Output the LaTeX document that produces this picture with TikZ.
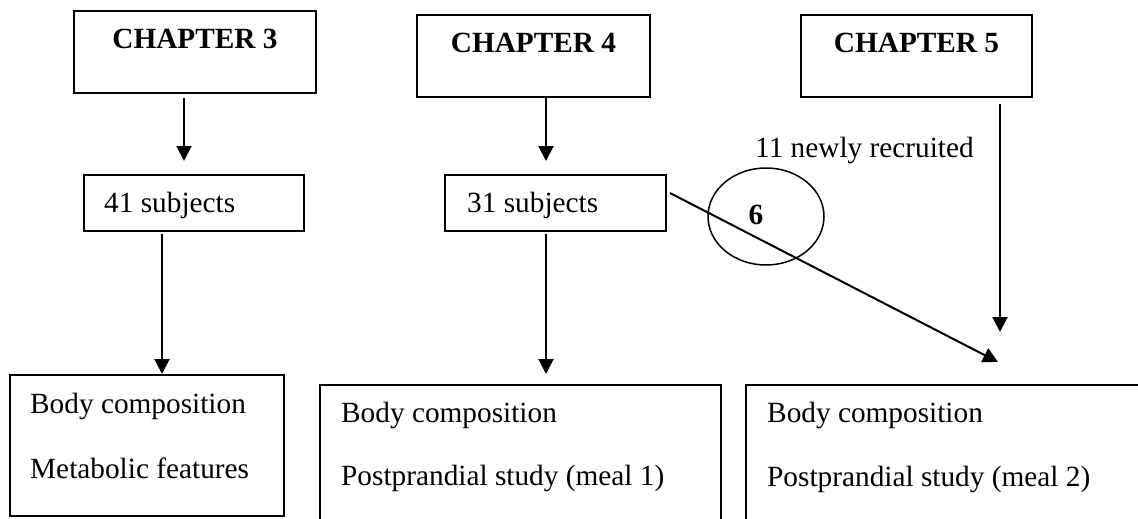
\documentclass[tikz,border=0pt]{standalone}
\usepackage{fontspec}
\setmainfont{Liberation Serif}
\usetikzlibrary{arrows.meta,shapes.geometric}
\begin{document}
\begin{tikzpicture}[x=1pt,y=-1pt,
  box/.style={draw,line width=2pt,inner sep=0pt,rectangle},
  txt/.style={inner sep=0pt,anchor=base west,font=\fontsize{29.3}{34}\selectfont},
  ttl/.style={inner sep=0pt,anchor=base,font=\fontsize{29.3}{34}\selectfont\bfseries},
  arr/.style={line width=2pt,-{Triangle[length=15pt,width=15pt]}}]
\useasboundingbox (0,0) rectangle (1138,519);
\clip (0,0) rectangle (1138,519);
% boxes
\node[box,minimum width=242pt,minimum height=82pt] (ch3) at (195,52) {};
\node[box,minimum width=233pt,minimum height=82pt] (ch4) at (533.5,56) {};
\node[box,minimum width=231pt,minimum height=82pt] (ch5) at (916.5,56) {};
\node[box,minimum width=220pt,minimum height=56pt] (s41) at (194,203) {};
\node[box,minimum width=221pt,minimum height=56pt] (s31) at (555.5,203) {};
\node[box,minimum width=274pt,minimum height=141pt] (r1) at (147,445.5) {};
\node[box,minimum width=401pt,minimum height=155pt] (r2) at (520.5,462.5) {};
\node[box,minimum width=414pt,minimum height=155pt] (r3) at (953,462.5) {};
\node[draw,ellipse,line width=1.5pt,minimum width=116pt,minimum height=97pt,inner sep=0pt] (e6) at (766,216.5) {};
% texts
\node[ttl] (t3) at (195,49) {CHAPTER 3};
\node[ttl] (t4) at (533.5,53) {CHAPTER 4};
\node[ttl] (t5) at (916.5,53) {CHAPTER 5};
\node[txt] (n41) at (104,212) {41 subjects};
\node[txt] (n31) at (467,212) {31 subjects};
\node[txt] (n11) at (755,157) {11 newly recruited};
\node[ttl] (n6) at (756,224) {6};
\node[txt] (a1) at (30,413) {Body composition};
\node[txt] (a2) at (30,478) {Metabolic features};
\node[txt] (b1) at (341,422) {Body composition};
\node[txt] (b2) at (341,485) {Postprandial study (meal 1)};
\node[txt] (c1) at (767,422) {Body composition};
\node[txt] (c2) at (767,486) {Postprandial study (meal 2)};
% connectors
\draw[arr] ([xshift=-11pt,yshift=-4pt]ch3.south) -- ([xshift=-10pt,yshift=13pt]s41.north);
\draw[arr] ([xshift=-32pt,yshift=-2pt]s41.south) -- ([xshift=15pt]r1.north);
\draw[arr] ([xshift=12.5pt]ch4.south) -- ([xshift=-9.5pt,yshift=13pt]s31.north);
\draw[arr] ([xshift=-9.5pt,yshift=-2pt]s31.south) -- ([xshift=25.5pt,yshift=10pt]r2.north);
\draw[arr] ([xshift=83.5pt,yshift=-6pt]ch5.south) -- ([xshift=47pt,yshift=52pt]r3.north);
\draw[arr] ([xshift=3pt,yshift=10pt]s31.east) -- ([xshift=45pt,yshift=22pt]r3.north);
\end{tikzpicture}
\end{document}
